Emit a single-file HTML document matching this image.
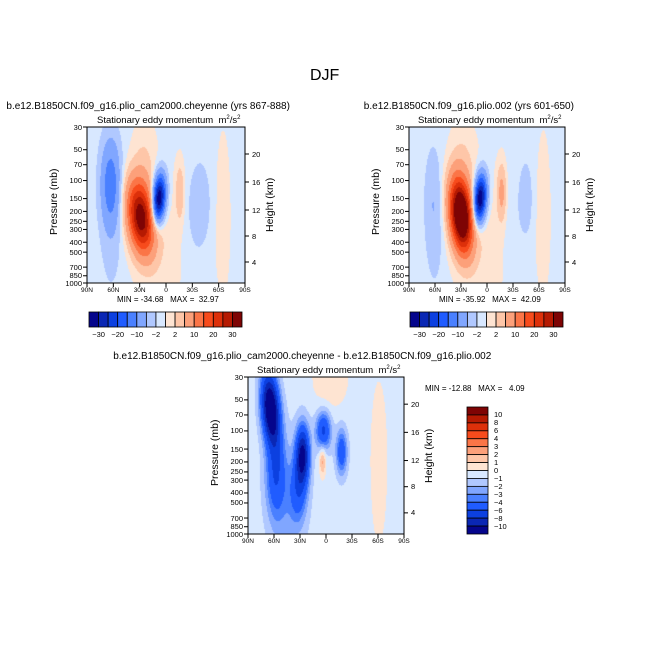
<!DOCTYPE html>
<html><head><meta charset="utf-8">
<style>
body{margin:0;background:#fff;}
#root{position:relative;width:654px;height:654px;overflow:hidden;font-family:"Liberation Sans",sans-serif;color:#000;}
.t{position:absolute;white-space:nowrap;font-size:8px;line-height:1;}
canvas{position:absolute;}
svg{position:absolute;left:0;top:0;}
</style></head>
<body>
<div id="root">
<div class="t" style="left:310px;top:68px;font-size:16px;">DJF</div>
<svg id="ov" width="654" height="654"></svg>
</div>
<script>
// ---- data: contour field blobs (lat deg, pressure mb, amplitude m2/s2, lat width deg, log-p width, tilt deg per log-p) ----
const p1Lat=[63,29,25,8,-16,-40,-65,8,-5,62,-30];
const p1Pres=[110,230,90,150,130,170,200,250,600,600,250];
const p1Amp=[-13,33,3,-36,5,-3.5,1.6,1.0,0.8,-1.6,-1.5];
const p1SigLat=[8,10,9,5,3.7,7,6,18,30,10,10];
const p1SigZ=[0.72,0.55,0.8,0.36,0.47,0.6,1.3,1.0,0.8,0.8,0.9];
const p1Tilt=[0,5,0,-3,0,0,0,0,0,0,0];

const p2Lat=[62,30,28,8,-17,-45,-65,8,-5,60,-30];
const p2Pres=[150,220,90,150,130,150,200,250,600,500,250];
const p2Amp=[-4,43,3,-36,7,-3.5,1.6,1.2,0.8,-1.5,-1.2];
const p2SigLat=[7,8.7,10,5,3.8,5,6,18,30,8,10];
const p2SigZ=[0.8,0.56,0.8,0.36,0.45,0.55,1.3,1.0,0.8,0.8,0.9];
const p2Tilt=[0,4,0,-3,0,0,0,0,0,0,0];

const p3Lat=[64,58,27,32,3,-18,4,-61,-5,45];
const p3Pres=[60,250,170,380,100,160,190,200,30,600];
const p3Amp=[-13,-5,-10,-4,-6,-5,3,1.3,1.5,-1.5];
const p3SigLat=[7,8,5.5,7,6,4.5,2.8,7,14,14];
const p3SigZ=[0.55,0.7,0.45,0.5,0.3,0.35,0.25,1.3,0.5,1.0];
const p3Tilt=[3,0,0,0,0,0,0,0,0,0];
const p3Base=-0.5, p1Base=-0.6, p2Base=-0.6;

// ---- color scales ----
const levelsA=[-30,-25,-20,-15,-10,-5,-2,0,2,5,10,15,20,25,30];
const levelsB=[-10,-8,-6,-4,-3,-2,-1,0,1,2,3,4,6,8,10];
const labelsA=['-30','-20','-10','-2','2','10','20','30'];
const labelsB=['10','8','6','4','3','2','1','0','-1','-2','-3','-4','-6','-8','-10'];
const pLabels=[30,50,70,100,150,200,250,300,400,500,700,850,1000];
const hLabels=[4,8,12,16,20];
const hY=[262,236,210,182,154];
const xLabels=['90N','60N','30N','0','30S','60S','90S'];
const colors=['#05058c','#0a27b4','#0c40e0','#205cff','#4a80ff','#80a6ff','#b0c8ff','#d8e8ff','#fee4d2','#fec6a8','#fca07a','#fb7547','#f74b1c','#dd300a','#b51a02','#7e0404'];

const root=document.getElementById('root');
const ov=document.getElementById('ov');
const NS='http://www.w3.org/2000/svg';
function txt(x,y,s,name,opts){
  const d=document.createElement('div');d.className='t';
  d.style.left=x+'px';d.style.top=y+'px';
  if(opts&&opts.size)d.style.fontSize=opts.size+'px';
  if(opts&&opts.rot){d.style.transform='rotate(-90deg)';d.style.transformOrigin='0 0';}
  d.innerHTML=s;
  
  
  root.appendChild(d);return d;
}
function line(x1,y1,x2,y2,name,w){
  const l=document.createElementNS(NS,'line');
  l.setAttribute('x1',x1);l.setAttribute('y1',y1);l.setAttribute('x2',x2);l.setAttribute('y2',y2);
  l.setAttribute('stroke','#000');l.setAttribute('stroke-width',w||1);
  
  
  ov.appendChild(l);
}
function rect(x,y,w,h,fill,name){
  const r=document.createElementNS(NS,'rect');
  r.setAttribute('x',x);r.setAttribute('y',y);r.setAttribute('width',w);r.setAttribute('height',h);
  r.setAttribute('fill',fill);r.setAttribute('stroke','#000');r.setAttribute('stroke-width',0.8);
  
  
  ov.appendChild(r);
}
function colorFor(v,lev){let i=0;while(i<lev.length&&v>=lev[i])i++;return colors[i];}
function hex(c){return [parseInt(c.substr(1,2),16),parseInt(c.substr(3,2),16),parseInt(c.substr(5,2),16)];}
const zTop=Math.log(1000/30);
function panel(L,T,W,H,lat,pres,amp,sl,sz,tilt,base,lev,name,title,mm){
  const cv=document.createElement('canvas');cv.width=W;cv.height=H;
  cv.style.left=L+'px';cv.style.top=T+'px';
  
  
  root.insertBefore(cv,ov);
  const ctx=cv.getContext('2d');const img=ctx.createImageData(W,H);
  for(let j=0;j<H;j++){
    const z=(H-j-0.5)/H*zTop;
    for(let i=0;i<W;i++){
      const la=90-(i+0.5)/W*180;
      let v=base;
      for(let k=0;k<lat.length;k++){
        const z0=Math.log(1000/pres[k]);
        const dz=(z-z0)/sz[k],dl=(la-lat[k]-tilt[k]*(z-z0))/sl[k];
        v+=amp[k]*Math.exp(-0.5*(dz*dz+dl*dl));
      }
      const c=hex(colorFor(v,lev));const o=(j*W+i)*4;
      img.data[o]=c[0];img.data[o+1]=c[1];img.data[o+2]=c[2];img.data[o+3]=255;
    }
  }
  ctx.putImageData(img,0,0);
  const b=document.createElementNS(NS,'rect');
  b.setAttribute('x',L);b.setAttribute('y',T);b.setAttribute('width',W);b.setAttribute('height',H);
  b.setAttribute('fill','none');b.setAttribute('stroke','#000');b.setAttribute('stroke-width',1);
  
  
  ov.appendChild(b);
  pLabels.forEach(p=>{
    const y=T+H-Math.log(1000/p)/zTop*H;
    line(L-4,y,L,y,'pressure-tick');
    const d=txt(L-25,y-3.5,String(p),'pressure-tick-label',{size:7.5});
    d.style.width='20px';d.style.textAlign='right';
  });
  hLabels.forEach((h,k)=>{
    const y=T+(hY[k]-127)*H/156;
    line(L+W,y,L+W+4,y,'height-tick');
    txt(L+W+7,y-3.5,String(h),'height-tick-label',{size:7.5});
  });
  xLabels.forEach((s,k)=>{
    const x=L+k*W/6;
    line(x,T+H,x,T+H+4,'lat-tick');
    const d=txt(x-10,T+H+5,s,'lat-tick-label',{size:6.5});d.style.width='20px';d.style.textAlign='center';
  });
  txt(L-38,T+H/2+30,'Pressure (mb)','y-axis-title',{size:10.5,rot:true});
  txt(L+W+20,T+H/2+27,'Height (km)','y2-axis-title',{size:10.5,rot:true});
  txt(L+W/2-69,T-12,'Stationary eddy momentum&nbsp; m<sup style="font-size:6px">2</sup>/s<sup style="font-size:6px">2</sup>','panel-subtitle',{size:9.5});
  txt(L+W/2-(title.length*2.8),T-25,title,'panel-title',{size:10});
  if(mm){txt(L+30,T+H+13,mm,'min-max-label',{size:8});}
}
panel(87,127,158,156,p1Lat,p1Pres,p1Amp,p1SigLat,p1SigZ,p1Tilt,p1Base,levelsA,'panel-cam2000',
 'b.e12.B1850CN.f09_g16.plio_cam2000.cheyenne (yrs 867-888)','MIN = -34.68&nbsp;&nbsp; MAX =&nbsp; 32.97');
panel(409,127,156,156,p2Lat,p2Pres,p2Amp,p2SigLat,p2SigZ,p2Tilt,p2Base,levelsA,'panel-plio002',
 'b.e12.B1850CN.f09_g16.plio.002 (yrs 601-650)','MIN = -35.92&nbsp;&nbsp; MAX =&nbsp; 42.09');
panel(248,377,156,157,p3Lat,p3Pres,p3Amp,p3SigLat,p3SigZ,p3Tilt,p3Base,levelsB,'panel-difference',
 'b.e12.B1850CN.f09_g16.plio_cam2000.cheyenne - b.e12.B1850CN.f09_g16.plio.002',null);
txt(425,385,'MIN = -12.88&nbsp;&nbsp; MAX =&nbsp;&nbsp; 4.09','difference-min-max',{size:8});

function hbar(L,name){
  const w=153/16;
  colors.forEach((c,k)=>rect(L+k*w,312,w,15,c,name+'-box'));
  labelsA.forEach((s,k)=>{
    const idx=[0,2,4,6,8,10,12,14][k];
    const x=L+(idx+1)*w;
    const d=txt(x-12,331,s.replace('-','&minus;'),name+'-label',{size:7.5});d.style.width='24px';d.style.textAlign='center';
  });
}
hbar(89,'colorbar-left');
hbar(410,'colorbar-right');
const vh=127/16;
colors.slice().reverse().forEach((c,k)=>rect(467,407+k*vh,21,vh,c,'colorbar-difference-box'));
labelsB.forEach((s,k)=>{
  txt(494,407+(k+1)*vh-3.5,s.replace('-','&minus;'),'colorbar-difference-label',{size:7.5});
});
</script>
</body></html>
